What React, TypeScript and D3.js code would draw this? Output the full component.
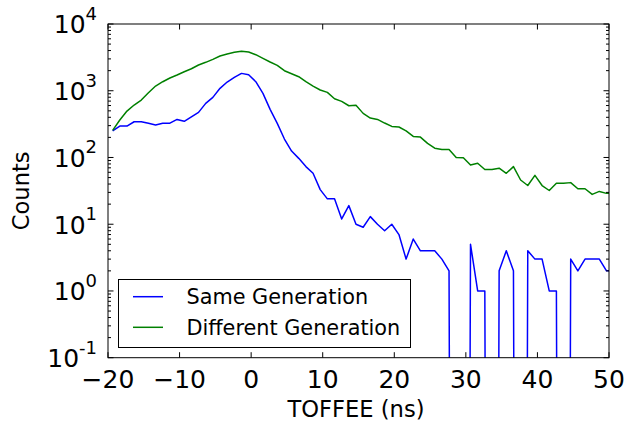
import React from "react";
import * as d3 from "d3";

const timeNs = [
  -19.35, -18.35, -17.35, -16.35, -15.35, -14.35, -13.35, -12.35, -11.35, -10.35,
  -9.35, -8.35, -7.35, -6.35, -5.35, -4.35, -3.35, -2.35, -1.35, -0.35,
  0.65, 1.65, 2.65, 3.65, 4.65, 5.65, 6.65, 7.65, 8.65, 9.65,
  10.65, 11.65, 12.65, 13.65, 14.65, 15.65, 16.65, 17.65, 18.65, 19.65,
  20.65, 21.65, 22.65, 23.65, 24.65, 25.65, 26.65, 27.65, 28.65, 29.65,
  30.65, 31.65, 32.65, 33.65, 34.65, 35.65, 36.65, 37.65, 38.65, 39.65,
  40.65, 41.65, 42.65, 43.65, 44.65, 45.65, 46.65, 47.65, 48.65, 49.65,
  50.65,
];

const sameGeneration = [
  251, 296, 296, 343, 343, 325, 306, 325, 327, 372,
  348, 407, 474, 647, 796, 1087, 1350, 1585, 1820, 1738,
  1365, 914, 526, 324, 189, 125, 97, 73, 58, 33,
  24, 24, 12, 19, 10, 9, 13, 10, 8, 10,
  7, 3, 6, 4, 4, 4, 3, 2, 0, 0,
  5, 1, 1, 0, 2, 4, 2, 0, 4, 3,
  3, 1, 1, 0, 3, 2, 3, 3, 3, 2,
  2,
];

const differentGeneration = [
  255, 364, 496, 611, 726, 933, 1175, 1365, 1550, 1720,
  1928, 2138, 2428, 2666, 2956, 3311, 3548, 3767, 3890, 3800,
  3467, 3058, 2692, 2399, 1995, 1798, 1622, 1365, 1175, 1025,
  946, 759, 693, 596, 605, 458, 390, 372, 328, 292,
  286, 251, 207, 202, 163, 138, 132, 132, 100, 99,
  77, 82, 66, 66, 69, 58, 73, 46, 38, 54,
  38, 32, 41, 41, 42, 34, 34, 28, 31, 29,
  29,
];

const xTicks = [-20, -10, 0, 10, 20, 30, 40, 50];
const yDecades = [-1, 0, 1, 2, 3, 4];
const seriesNames = ["Same Generation", "Different Generation"];
const seriesColors = ["#0000ff", "#008000"];

const W = 631;
const H = 423;
const L = 108;
const R = 609;
const T = 24;
const B = 357.7;

export default function App() {
  const x = d3.scaleLinear().domain([-20, 50]).range([L, R]);
  const y = d3.scaleLog().domain([0.1, 10000]).range([B, T]);
  const line = d3
    .line<[number, number]>()
    .x((d) => x(d[0]))
    .y((d) => y(Math.max(d[1], 1e-30)));

  const series = [sameGeneration, differentGeneration];
  const paths = series.map((vals) =>
    line(timeNs.map((t, i) => [t, vals[i]] as [number, number]))
  );

  const minor: number[] = [];
  for (let e = -1; e < 4; e++) {
    for (let m = 2; m <= 9; m++) minor.push(m * Math.pow(10, e));
  }

  const font = "DejaVu Sans";
  const majorLen = 5.5;
  const minorLen = 3;

  return (
    <svg
      width={W}
      height={H}
      style={{ position: "absolute", left: 0, top: 0, background: "#fff" }}
      fontFamily={font}
    >
      <defs>
        <clipPath id="plotclip">
          <rect x={L} y={T} width={R - L} height={B - T} />
        </clipPath>
      </defs>
      <rect x={0} y={0} width={W} height={H} fill="#fff" />

      <g clipPath="url(#plotclip)">
        {paths.map((p, i) => (
          <path
            key={i}
            d={p || ""}
            fill="none"
            stroke={seriesColors[i]}
            strokeWidth={1.5}
            strokeLinejoin="round"
          />
        ))}
      </g>

      {xTicks.map((t) => (
        <g key={"xt" + t}>
          <line x1={x(t)} x2={x(t)} y1={B} y2={B - majorLen} stroke="#000" strokeWidth={1} />
          <line x1={x(t)} x2={x(t)} y1={T} y2={T + majorLen} stroke="#000" strokeWidth={1} />
          <text x={x(t)} y={387.5} textAnchor="middle" fontSize={25} fill="#000">
            {t < 0 ? "\u2212" + Math.abs(t) : String(t)}
          </text>
        </g>
      ))}

      {yDecades.map((e) => {
        const yy = y(Math.pow(10, e));
        return (
          <g key={"yt" + e}>
            <line x1={L} x2={L + majorLen} y1={yy} y2={yy} stroke="#000" strokeWidth={1} />
            <line x1={R} x2={R - majorLen} y1={yy} y2={yy} stroke="#000" strokeWidth={1} />
            <text x={97} y={yy + 9.3} textAnchor="end" fontSize={25} fill="#000">
              <tspan>10</tspan>
              <tspan dy={-13.5} fontSize={18}>
                {e < 0 ? "-" + Math.abs(e) : String(e)}
              </tspan>
            </text>
          </g>
        );
      })}

      {minor.map((v, i) => {
        const yy = y(v);
        return (
          <g key={"ym" + i}>
            <line x1={L} x2={L + minorLen} y1={yy} y2={yy} stroke="#000" strokeWidth={1} />
            <line x1={R} x2={R - minorLen} y1={yy} y2={yy} stroke="#000" strokeWidth={1} />
          </g>
        );
      })}

      <rect x={L} y={T} width={R - L} height={B - T} fill="none" stroke="#000" strokeWidth={1} />

      <rect x={118.5} y={279.5} width={292} height={68} fill="#fff" stroke="#000" strokeWidth={1} />
      {seriesNames.map((name, i) => {
        const ly = 296.7 + i * 30.6;
        return (
          <g key={name}>
            <line x1={133} x2={163} y1={ly} y2={ly} stroke={seriesColors[i]} strokeWidth={1.5} />
            <text x={186.5} y={ly + 7.3} fontSize={20.8} fill="#000">
              {name}
            </text>
          </g>
        );
      })}

      <text x={356} y={417} textAnchor="middle" fontSize={22.6} fill="#000">
        TOFFEE (ns)
      </text>
      <text
        transform={`translate(29, ${(T + B) / 2}) rotate(-90)`}
        textAnchor="middle"
        fontSize={22.6}
        fill="#000"
      >
        Counts
      </text>
    </svg>
  );
}
